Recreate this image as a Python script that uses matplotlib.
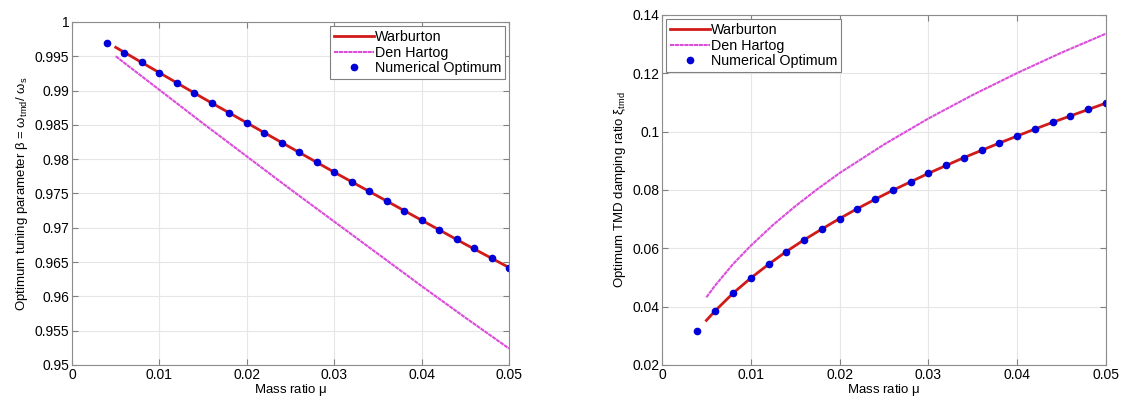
import numpy as np
import matplotlib
matplotlib.use('Agg')
import matplotlib.pyplot as plt
from matplotlib.ticker import FormatStrFormatter

plt.rcParams['font.family'] = ['Liberation Sans', 'DejaVu Sans']
plt.rcParams['mathtext.default'] = 'regular'

# mass ratios of the numerical optimum points
mu_num = [0.004, 0.006, 0.008, 0.010, 0.012, 0.014, 0.016, 0.018, 0.020, 0.022, 0.024, 0.026,
          0.028, 0.030, 0.032, 0.034, 0.036, 0.038, 0.040, 0.042, 0.044, 0.046, 0.048, 0.050]
beta_num = [0.9970, 0.9955, 0.9941, 0.9926, 0.9911, 0.9896, 0.9882, 0.9867, 0.9853, 0.9838,
            0.9824, 0.9810, 0.9796, 0.9781, 0.9767, 0.9753, 0.9739, 0.9725, 0.9711, 0.9697,
            0.9683, 0.9670, 0.9656, 0.9642]
zeta_num = [0.0316, 0.0386, 0.0446, 0.0498, 0.0545, 0.0589, 0.0629, 0.0666, 0.0702, 0.0736,
            0.0768, 0.0799, 0.0828, 0.0857, 0.0884, 0.0911, 0.0936, 0.0961, 0.0985, 0.1009,
            0.1032, 0.1054, 0.1076, 0.1098]

# tuning ratio curves (left)
mu_beta = [0.005, 0.010, 0.015, 0.020, 0.025, 0.030, 0.035, 0.040, 0.045, 0.050]
beta_warb = [0.9963, 0.9926, 0.9889, 0.9853, 0.9817, 0.9781, 0.9746, 0.9711, 0.9676, 0.9642]
beta_dh = [0.9950, 0.9901, 0.9852, 0.9804, 0.9756, 0.9709, 0.9662, 0.9615, 0.9569, 0.9524]

# damping ratio curves (right)
mu_zw = [0.005, 0.006, 0.008, 0.010, 0.012, 0.014, 0.016, 0.018, 0.020, 0.022, 0.024, 0.026,
         0.028, 0.030, 0.032, 0.034, 0.036, 0.038, 0.040, 0.042, 0.044, 0.046, 0.048, 0.050]
zeta_warb = [0.0353, 0.0386, 0.0446, 0.0498, 0.0545, 0.0589, 0.0629, 0.0666, 0.0702, 0.0736,
             0.0768, 0.0799, 0.0828, 0.0857, 0.0884, 0.0911, 0.0936, 0.0961, 0.0985, 0.1009,
             0.1032, 0.1054, 0.1076, 0.1098]
mu_zd = [0.005, 0.006, 0.008, 0.010, 0.0125, 0.015, 0.0175, 0.020, 0.025, 0.030, 0.035,
         0.040, 0.045, 0.050]
zeta_dh = [0.0432, 0.0473, 0.0546, 0.0609, 0.0680, 0.0744, 0.0803, 0.0858, 0.0956, 0.1045,
           0.1126, 0.1201, 0.1271, 0.1336]

xticks = [0, 0.01, 0.02, 0.03, 0.04, 0.05]

fig = plt.figure(figsize=(11.22, 4.01), dpi=100)
ax1 = fig.add_axes([0.0642, 0.0898, 0.3895, 0.8554])
ax2 = fig.add_axes([0.5900, 0.0898, 0.3957, 0.8728])

red = (0.82, 0.1, 0.1)
mag = (0.86, 0.3, 0.86)
blue = (0.0, 0.0, 0.85)

ax1.plot(mu_beta, beta_warb, color=red, lw=2, label='Warburton')
ax1.plot(mu_beta, beta_dh, color=mag, lw=1.5, ls=(0, (2, 0.3)), label='Den Hartog')
ax1.plot(mu_num, beta_num, 'o', color=blue, ms=4.5, label='Numerical Optimum')
ax1.set_ylim(0.95, 1)
ax1.set_yticks(np.arange(0.95, 1.0001, 0.005))
ax1.set_ylabel(r'Optimum tuning parameter $\beta$ = $\omega_{tmd}$/ $\omega_s$', fontsize=9.5,
               labelpad=3)

ax2.plot(mu_zw, zeta_warb, color=red, lw=2, label='Warburton')
ax2.plot(mu_zd, zeta_dh, color=mag, lw=1.5, ls=(0, (2, 0.3)), label='Den Hartog')
ax2.plot(mu_num, zeta_num, 'o', color=blue, ms=4.5, label='Numerical Optimum')
ax2.set_ylim(0.02, 0.14)
ax2.set_yticks(np.arange(0.02, 0.1401, 0.02))
ax2.set_ylabel(r'Optimum TMD damping ratio $\xi_{tmd}$', fontsize=9.5, labelpad=3)

for ax in (ax1, ax2):
    ax.set_xlim(0, 0.05)
    ax.set_xticks(xticks)
    ax.xaxis.set_major_formatter(FormatStrFormatter('%g'))
    ax.yaxis.set_major_formatter(FormatStrFormatter('%g'))
    ax.set_xlabel(r'Mass ratio $\mu$', fontsize=9.5, labelpad=0)
    ax.grid(True, color=(0.9, 0.9, 0.9), lw=0.8)
    ax.set_axisbelow(True)
    ax.tick_params(direction='in', top=True, right=True, labelsize=10,
                   color=(0.5, 0.5, 0.5), length=4, pad=2)
    for sp in ax.spines.values():
        sp.set_color((0.55, 0.55, 0.55))
    leg = ax.legend(fontsize=10.3, handlelength=2.8, handletextpad=0.05, borderpad=0.25,
                    labelspacing=0.12, borderaxespad=0.3, fancybox=False, framealpha=1,
                    edgecolor=(0.5, 0.5, 0.5))
    leg.get_frame().set_linewidth(0.8)

ax1.legend_._loc = 1
ax2.legend_._loc = 2

plt.savefig('out.png', dpi=100)
